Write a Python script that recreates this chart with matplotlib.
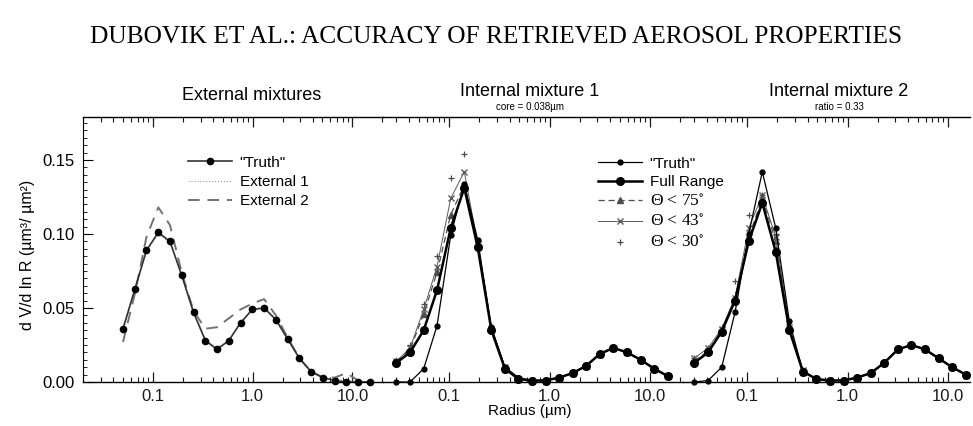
import numpy as np
import matplotlib
matplotlib.use("Agg")
import matplotlib.pyplot as plt
from matplotlib.ticker import MultipleLocator, LogLocator, FixedLocator, NullFormatter

# radius grids (um)
r_ext = [0.050, 0.066, 0.086, 0.113, 0.148, 0.194, 0.255, 0.335, 0.439, 0.576, 0.756,
         0.992, 1.302, 1.708, 2.241, 2.940, 3.857, 5.061, 6.641, 8.713, 11.43, 15.00]
r_int = [0.030, 0.041, 0.056, 0.076, 0.104, 0.142, 0.193, 0.264, 0.360, 0.491, 0.671,
         0.915, 1.249, 1.704, 2.325, 3.173, 4.330, 5.908, 8.062, 11.00, 15.00]

# external mixtures
ext_truth = [0.036, 0.063, 0.089, 0.101, 0.095, 0.072, 0.047, 0.028, 0.022, 0.028, 0.040,
             0.049, 0.050, 0.042, 0.029, 0.016, 0.007, 0.003, 0.001, 0.000, 0.000, 0.000]
ext_1 = [0.035, 0.062, 0.088, 0.100, 0.094, 0.073, 0.048, 0.029, 0.023, 0.028, 0.040,
         0.049, 0.051, 0.043, 0.029, 0.016, 0.007, 0.003, 0.002, 0.001, 0.000, 0.000]
ext_2 = [0.027, 0.060, 0.098, 0.118, 0.106, 0.074, 0.048, 0.036, 0.037, 0.043, 0.049,
         0.053, 0.056, 0.045, 0.030, 0.016, 0.007, 0.003, 0.003, 0.006, 0.001, 0.000]

# internal mixture 1 (core = 0.038 um)
int1_truth = [0.000, 0.000, 0.009, 0.038, 0.099, 0.134, 0.096, 0.037, 0.010, 0.003, 0.001,
              0.001, 0.003, 0.006, 0.011, 0.019, 0.023, 0.020, 0.015, 0.009, 0.004]
int1_full = [0.013, 0.020, 0.035, 0.062, 0.104, 0.131, 0.091, 0.035, 0.009, 0.002, 0.001,
             0.001, 0.003, 0.006, 0.011, 0.019, 0.023, 0.020, 0.015, 0.009, 0.004]
int1_75 = [0.014, 0.022, 0.046, 0.074, 0.113, 0.133, 0.092, 0.036, 0.009, 0.002, 0.001,
           0.001, 0.003, 0.006, 0.011, 0.019, 0.023, 0.020, 0.015, 0.009, 0.004]
int1_43 = [0.014, 0.023, 0.049, 0.078, 0.124, 0.142, 0.093, 0.036, 0.010, 0.002, 0.001,
           0.001, 0.003, 0.006, 0.011, 0.019, 0.023, 0.020, 0.015, 0.009, 0.004]
int1_30 = [0.015, 0.025, 0.053, 0.085, 0.138, 0.154, 0.095, 0.037, 0.010, 0.002, 0.001,
           0.001, 0.003, 0.006, 0.011, 0.019, 0.023, 0.020, 0.015, 0.009, 0.004]

# internal mixture 2 (ratio = 0.33)
int2_truth = [0.000, 0.001, 0.010, 0.047, 0.100, 0.142, 0.104, 0.041, 0.007, 0.002, 0.001,
              0.001, 0.003, 0.006, 0.013, 0.022, 0.025, 0.022, 0.016, 0.010, 0.005]
int2_full = [0.013, 0.020, 0.034, 0.055, 0.095, 0.121, 0.088, 0.035, 0.007, 0.002, 0.001,
             0.001, 0.003, 0.006, 0.013, 0.022, 0.025, 0.022, 0.016, 0.010, 0.005]
int2_75 = [0.014, 0.021, 0.035, 0.057, 0.098, 0.124, 0.095, 0.036, 0.007, 0.002, 0.001,
           0.001, 0.003, 0.006, 0.013, 0.022, 0.025, 0.022, 0.016, 0.010, 0.005]
int2_43 = [0.016, 0.023, 0.036, 0.057, 0.104, 0.126, 0.098, 0.037, 0.008, 0.002, 0.001,
           0.001, 0.003, 0.006, 0.013, 0.022, 0.025, 0.022, 0.016, 0.010, 0.005]
int2_30 = [0.016, 0.023, 0.037, 0.068, 0.113, 0.126, 0.100, 0.038, 0.008, 0.002, 0.001,
           0.001, 0.003, 0.006, 0.013, 0.022, 0.025, 0.022, 0.016, 0.010, 0.005]

xtick_vals = [0.1, 1.0, 10.0]
xtick_labels = ["0.1", "1.0", "10.0"]
ytick_vals = [0.0, 0.05, 0.10, 0.15]
ytick_labels = ["0.00", "0.05", "0.10", "0.15"]

plt.rcParams['font.family'] = ['Liberation Sans', 'DejaVu Sans']
plt.rcParams['mathtext.fontset'] = 'stix'

W, H = 973, 426
fig = plt.figure(figsize=(W / 100, H / 100), dpi=100)

TOP, BOT = 117, 382
YMAX = 0.179


def add_panel(x0, x1, x_01, px_dec):
    # x0/x1: pixel edges, x_01: pixel of r=0.1, px_dec: pixels per decade
    ax = fig.add_axes([x0 / W, 1 - BOT / H, (x1 - x0) / W, (BOT - TOP) / H])
    ax.patch.set_alpha(0)
    ax.set_xscale('log')
    ax.set_xlim(10 ** (-1 - (x_01 - x0) / px_dec), 10 ** (-1 + (x1 - x_01) / px_dec))
    ax.set_ylim(0, YMAX)
    ax.spines['right'].set_visible(False)
    ax.spines['left'].set_visible(False)
    for s in ('top', 'bottom'):
        ax.spines[s].set_linewidth(1.0)
    ax.xaxis.set_major_locator(FixedLocator(xtick_vals))
    ax.set_xticklabels(xtick_labels)
    ax.xaxis.set_minor_locator(LogLocator(base=10, subs=np.arange(2, 10)))
    ax.xaxis.set_minor_formatter(NullFormatter())
    ax.tick_params(axis='x', which='both', direction='in', top=True, bottom=True,
                   labelsize=12, pad=5, colors='0.1')
    ax.tick_params(axis='x', which='major', length=7, width=0.9)
    ax.tick_params(axis='x', which='minor', length=3.5, width=0.8)
    ax.tick_params(axis='y', which='both', left=False, labelleft=False)
    return ax


ax1 = add_panel(83, 383, 153, 99.7)
ax2 = add_panel(383, 683, 449, 100.5)
ax3 = add_panel(683, 970, 747, 100.5)

ax1.spines['left'].set_visible(True)
ax1.yaxis.set_major_locator(FixedLocator(ytick_vals))
ax1.set_yticklabels(ytick_labels)
ax1.yaxis.set_minor_locator(MultipleLocator(0.005))
ax1.tick_params(axis='y', which='both', left=True, labelleft=True, direction='in',
                labelsize=12, pad=6)
ax1.tick_params(axis='y', which='major', length=7)
ax1.tick_params(axis='y', which='minor', length=3)

# external mixtures
ax1.plot(r_ext, ext_1, ':', color='0.6', lw=0.8, label='External 1', clip_on=False)
ax1.plot(r_ext, ext_2, '--', color='0.45', lw=1.4, dashes=(6, 4), label='External 2', clip_on=False)
ax1.plot(r_ext, ext_truth, '-o', color='0.2', lw=1.2, ms=4.5, mfc='black', mec='black',
         label='"Truth"', clip_on=False)
h, l = ax1.get_legend_handles_labels()
order = [2, 0, 1]
ax1.legend([h[i] for i in order], [l[i] for i in order], loc='upper left',
           bbox_to_anchor=(180 / W, 1 - 148 / H), bbox_transform=fig.transFigure,
           frameon=False, fontsize=11, handlelength=2.9, handletextpad=0.5,
           labelspacing=0.35, borderpad=0)


def draw_internal(ax, truth, full, a75, a43, a30):
    ax.plot(r_int, truth, '-o', color='black', lw=0.9, ms=3.5, label='"Truth"',
            clip_on=False, zorder=5)
    ax.plot(r_int, full, '-o', color='black', lw=1.8, ms=5.5, label='Full Range',
            clip_on=False, zorder=4)
    ax.plot(r_int, a75, '--^', color='0.3', lw=0.9, ms=4, dashes=(5, 3),
            label='\u0398 < 75$^{\\circ}$', clip_on=False, zorder=3)
    ax.plot(r_int, a43, '-x', color='0.35', lw=0.7, ms=4, label='\u0398 < 43$^{\\circ}$',
            clip_on=False, zorder=3)
    ax.plot(r_int, a30, '+', color='0.3', ms=4, mew=0.9, label='\u0398 < 30$^{\\circ}$',
            clip_on=False, zorder=3)


draw_internal(ax2, int1_truth, int1_full, int1_75, int1_43, int1_30)
draw_internal(ax3, int2_truth, int2_full, int2_75, int2_43, int2_30)

leg = ax2.legend(loc='upper left', bbox_to_anchor=(590 / W, 1 - 149 / H),
                 bbox_transform=fig.transFigure, frameon=False, fontsize=11,
                 handlelength=2.9, handletextpad=0.5, labelspacing=0.3, borderpad=0)
leg.set_zorder(10)
for t in leg.get_texts()[2:]:
    t.set_family('Liberation Serif')
    t.set_fontsize(12.5)

# titles and labels
fig.text(496 / W, 1 - 37 / H, "DUBOVIK ET AL.: ACCURACY OF RETRIEVED AEROSOL PROPERTIES",
         family='Liberation Serif', fontsize=18.3, ha='center', va='center')
fig.text(252 / W, 1 - 96 / H, "External mixtures", fontsize=13, ha='center', va='center')
fig.text(530 / W, 1 - 92 / H, "Internal mixture 1", fontsize=13, ha='center', va='center')
fig.text(530 / W, 1 - 107 / H, "core = 0.038\u00b5m", fontsize=7, ha='center', va='center')
fig.text(839 / W, 1 - 92 / H, "Internal mixture 2", fontsize=13, ha='center', va='center')
fig.text(839 / W, 1 - 107 / H, "ratio = 0.33", fontsize=7, ha='center', va='center')
fig.text(28 / W, 1 - 255 / H, "d V/d ln R (\u00b5m\u00b3/ \u00b5m\u00b2)", fontsize=11.5,
         rotation=90, ha='center', va='center')
fig.text(530 / W, 1 - 411 / H, "Radius (\u00b5m)", fontsize=11, ha='center', va='center')

fig.savefig("out.png", dpi=100)
